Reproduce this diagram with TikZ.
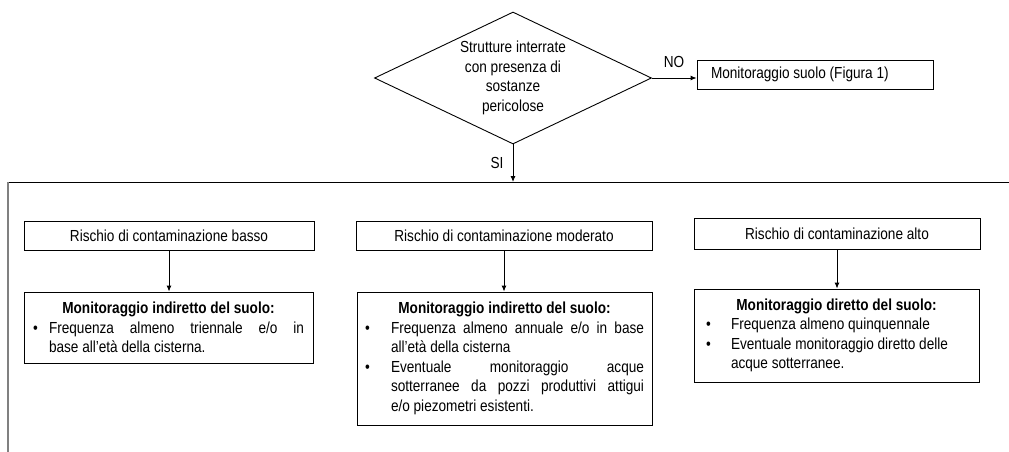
\documentclass[tikz,border=0pt]{standalone}
\usepackage{fontspec}
\setmainfont{Liberation Sans}[FakeStretch=0.85]
\usetikzlibrary{shapes.geometric,arrows.meta}

\newenvironment{punti}[1]{\begin{list}{\textbullet}{\setlength{\leftmargin}{#1}\setlength{\labelwidth}{#1}%
    \setlength{\labelsep}{0pt}\setlength{\itemsep}{0pt}\setlength{\topsep}{0pt}\setlength{\parsep}{0pt}%
    \setlength{\partopsep}{0pt}\renewcommand{\makelabel}[1]{##1\hfil}}}{\end{list}}

\begin{document}
\begin{tikzpicture}[x=1pt,y=-1pt,
    every node/.style={font=\fontsize{16}{19.5}\selectfont},
    box/.style={draw,line width=0.9pt,inner sep=0pt},
    arr/.style={line width=0.9pt,-{Latex[length=6pt,width=5pt]}}]
    \useasboundingbox (0,0) rectangle (1009,452);

    % domanda iniziale
    \node[box,diamond,aspect=2.1,minimum width=277pt,minimum height=132pt,align=center] (q) at (513,78)
        {Strutture interrate\\con presenza di\\sostanze\\pericolose};
    \node[box,minimum height=29pt,text width=208pt,inner xsep=14pt,align=flush left] (suolo) at (815,74.5)
        {Monitoraggio suolo (Figura 1)};
    \node (no) at (674,62) {NO};
    \node (si) at (497,163) {SI};
    \draw[arr] (q.east) -- (q.east -| suolo.west);

    \coordinate (tl) at (8,182);
    \coordinate (tr) at (1009,182);
    \coordinate (bl) at (8,452);
    \draw[line width=0.9pt] (tl) -- (tr);
    \draw[gray,line width=1.6pt] (tl) -- (bl);
    \draw[arr] (q.south) -- (q.south |- tl);

    % classi di rischio
    \node[box,minimum width=290pt,minimum height=29pt] (rb) at (169,235.5) {Rischio di contaminazione basso};
    \node[box,minimum width=296pt,minimum height=29pt] (rm) at (504,235.5) {Rischio di contaminazione moderato};
    \node[box,minimum width=286pt,minimum height=31pt] (ra) at (837,233.5) {Rischio di contaminazione alto};

    % monitoraggio
    \node[box,text width=271pt,inner xsep=9pt,minimum height=71pt,align=justify] (mb) at (168.5,327.5)
        {\centerline{\textbf{Monitoraggio indiretto del suolo:}}
         \begin{punti}{16pt}
         \item Frequenza almeno triennale e/o in\linebreak base all’età della cisterna.
         \end{punti}};
    \node[box,text width=279pt,inner xsep=8pt,minimum height=133pt,align=justify] (mm) at (504.5,358.5)
        {\centerline{\textbf{Monitoraggio indiretto del suolo:}}
         \begin{punti}{26pt}
         \item Frequenza almeno annuale e/o in base\linebreak all’età della cisterna
         \item Eventuale monitoraggio acque\linebreak sotterranee da pozzi produttivi attigui\linebreak e/o piezometri esistenti.
         \end{punti}};
    \node[box,text width=261pt,inner xsep=12pt,minimum height=93pt,align=justify] (ma) at (836.5,335.5)
        {\centerline{\textbf{Monitoraggio diretto del suolo:}}
         \begin{punti}{25pt}
         \item Frequenza almeno quinquennale
         \item Eventuale monitoraggio diretto delle\\acque sotterranee.
         \end{punti}};

    \draw[arr] (rb.south) -- (rb.south |- mb.north);
    \draw[arr] (rm.south) -- (rm.south |- mm.north);
    \draw[arr] (ra.south) -- (ra.south |- ma.north);
\end{tikzpicture}
\end{document}
